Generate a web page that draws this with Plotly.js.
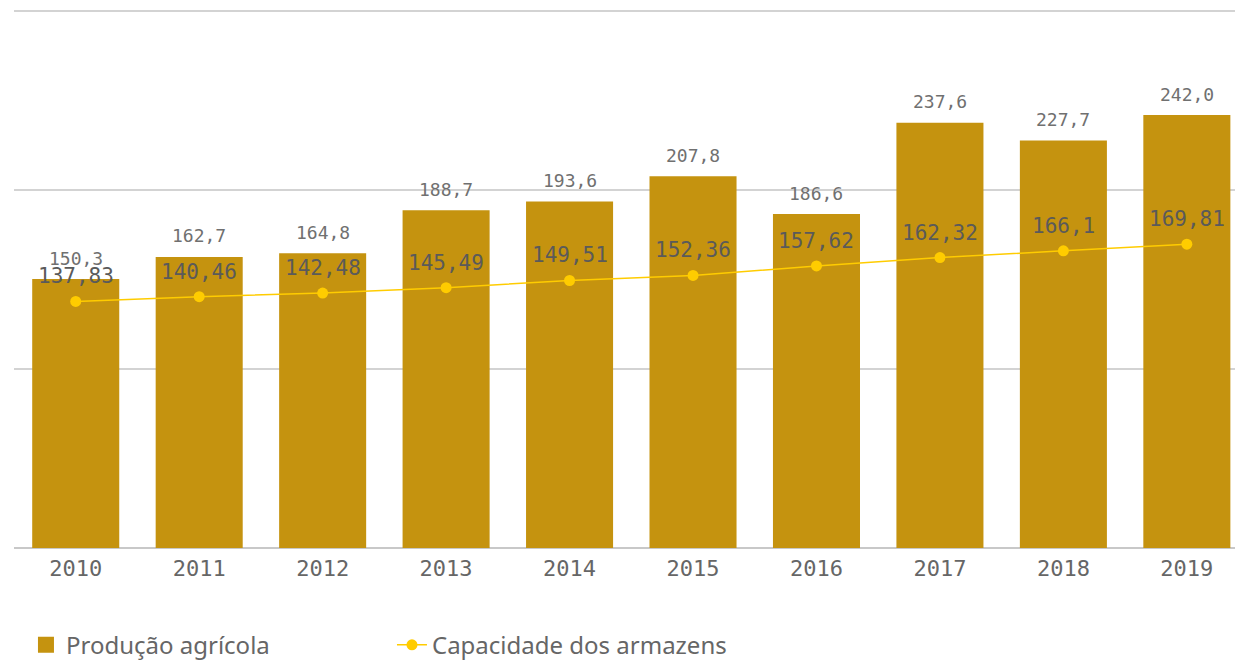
<!DOCTYPE html>
<html>
<head>
<meta charset="utf-8">
<script src="https://cdn.plot.ly/plotly-3.0.1.min.js"></script>
<style>html,body{margin:0;padding:0;background:#fff;}#chart{width:1235px;height:660px;}</style>
</head>
<body>
<div id="chart"></div>
<script>
const years = ["2010","2011","2012","2013","2014","2015","2016","2017","2018","2019"];
const producao = [150.3, 162.7, 164.8, 188.7, 193.6, 207.8, 186.6, 237.6, 227.7, 242.0];
const capacidade = [137.83, 140.46, 142.48, 145.49, 149.51, 152.36, 157.62, 162.32, 166.1, 169.81];
const producaoLabels = ["150,3","162,7","164,8","188,7","193,6","207,8","186,6","237,6","227,7","242,0"];
const capacidadeLabels = ["137,83","140,46","142,48","145,49","149,51","152,36","157,62","162,32","166,1","169,81"];

const monoFont = "DejaVu Sans Mono, Liberation Mono, monospace";
const sansFont = "Noto Sans, Open Sans, DejaVu Sans, sans-serif";
const barColor = '#C5930F';
const lineColor = '#FFCC00';

const traces = [
  {
    type: 'bar', name: 'Produção agrícola', x: years, y: producao,
    marker: {color: barColor}, hoverinfo: 'skip', showlegend: false,
    legendgroup: 'prod'
  },
  {
    // legend entry for the bars (larger square symbol)
    type: 'scatter', mode: 'markers', name: 'Produção agrícola',
    x: [years[0]], y: [null], legendgroup: 'prod',
    marker: {color: barColor, symbol: 'square', size: 16}, hoverinfo: 'skip'
  },
  {
    type: 'scatter', mode: 'lines+markers', name: 'Capacidade dos armazens',
    x: years, y: capacidade,
    line: {color: lineColor, width: 1.5},
    marker: {color: lineColor, size: 11},
    hoverinfo: 'skip'
  }
];

const annotations = [];
years.forEach((yr, i) => {
  annotations.push({
    x: i, y: producao[i], xref: 'x', yref: 'y', text: producaoLabels[i],
    showarrow: false, yanchor: 'middle', yshift: 21,
    font: {family: monoFont, size: 18, color: '#707070'}
  });
  annotations.push({
    x: i, y: capacidade[i], xref: 'x', yref: 'y', text: capacidadeLabels[i],
    showarrow: false, yanchor: 'middle', yshift: 25,
    font: {family: monoFont, size: 21, color: '#5a5a5a'}
  });
});

const layout = {
  width: 1235, height: 660,
  margin: {l: 14, r: 0, t: 8, b: 112, autoexpand: false},
  paper_bgcolor: '#fff', plot_bgcolor: '#fff',
  bargap: 0.295,
  showlegend: true,
  legend: {
    orientation: 'h', x: 0.0098, xanchor: 'left', y: -0.18, yanchor: 'middle',
    font: {family: sansFont, size: 24, color: '#666'},
    entrywidth: 321, entrywidthmode: 'pixels'
  },
  xaxis: {
    type: 'category', range: [-0.5, 9.39], fixedrange: true,
    showgrid: false, showline: false, zeroline: false,
    ticks: 'outside', ticklen: 1, tickcolor: 'rgba(0,0,0,0)',
    tickfont: {family: monoFont, size: 22, color: '#666'}
  },
  yaxis: {
    range: [0, 301.8], tickvals: [0, 100, 200, 300], showticklabels: false,
    showgrid: true, gridcolor: '#d3d3d3', gridwidth: 1.5,
    zeroline: true, zerolinecolor: '#c8c8c8', zerolinewidth: 1.5,
    fixedrange: true
  },
  annotations: annotations
};

Plotly.newPlot('chart', traces, layout, {displayModeBar: false, staticPlot: true});
</script>
</body>
</html>
